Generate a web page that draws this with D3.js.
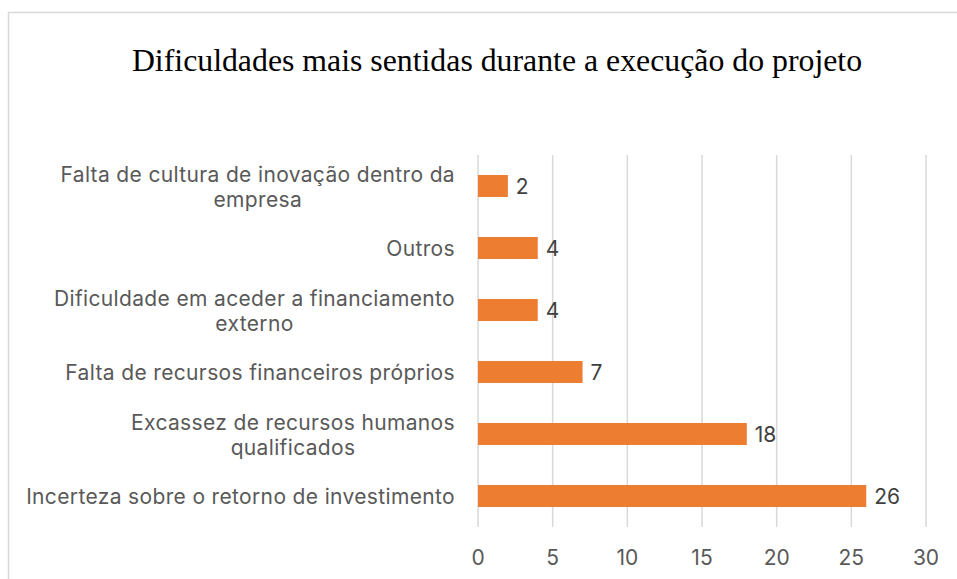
<!DOCTYPE html>
<html>
<head>
<meta charset="utf-8">
<script src="https://cdn.jsdelivr.net/npm/d3@7"></script>
<style>
  body { margin: 0; background: #fff; }
  svg { display: block; }
</style>
</head>
<body>
<div id="container"></div>
<script>
const categories = [
  ["Falta de cultura de inovação dentro da", "empresa"],
  ["Outros"],
  ["Dificuldade em aceder a financiamento", "externo"],
  ["Falta de recursos financeiros próprios"],
  ["Excassez de recursos humanos", "qualificados"],
  ["Incerteza sobre o retorno de investimento"]
];
const values = [2, 4, 4, 7, 18, 26];
const ticks = [0, 5, 10, 15, 20, 25, 30];
const title = "Dificuldades mais sentidas durante a execução do projeto";

const width = 957, height = 579;
const labelFont = "Inter, 'Liberation Sans', sans-serif";
const fs = 21;
const ls = 0.35;

const svg = d3.select("#container").append("svg")
  .attr("width", width)
  .attr("height", height);

// chart frame (cropped on right and bottom)
svg.append("rect")
  .attr("x", 8.5).attr("y", 12.5)
  .attr("width", 960).attr("height", 600)
  .attr("fill", "#fff")
  .attr("stroke", "#d9d9d9")
  .attr("stroke-width", 1.5);

svg.append("text")
  .attr("x", 497).attr("y", 71)
  .attr("text-anchor", "middle")
  .attr("font-family", "'Liberation Serif', 'Times New Roman', serif")
  .attr("font-size", 31.8)
  .attr("fill", "#000")
  .text(title);

const x = d3.scaleLinear().domain([0, 30]).range([478, 926]);
const y = d3.scaleBand()
  .domain(d3.range(categories.length))
  .range([155, 527])
  .paddingInner(0.645)
  .paddingOuter(0.3225);

// gridlines
svg.append("g")
  .selectAll("line")
  .data(ticks)
  .join("line")
  .attr("x1", d => x(d)).attr("x2", d => x(d))
  .attr("y1", 155).attr("y2", 527)
  .attr("stroke", "#d9d9d9")
  .attr("stroke-width", 1.5);

// tick labels
svg.append("g")
  .selectAll("text")
  .data(ticks)
  .join("text")
  .attr("x", d => x(d))
  .attr("y", 565)
  .attr("text-anchor", "middle")
  .attr("font-family", labelFont)
  .attr("font-size", fs)
  .attr("fill", "#595959")
  .text(d => d);

// bars
svg.append("g")
  .selectAll("rect")
  .data(values)
  .join("rect")
  .attr("x", x(0))
  .attr("y", (d, i) => y(i))
  .attr("width", d => x(d) - x(0))
  .attr("height", y.bandwidth())
  .attr("fill", "#ed7d31");

// value labels
svg.append("g")
  .selectAll("text")
  .data(values)
  .join("text")
  .attr("x", d => x(d) + 8)
  .attr("y", (d, i) => y(i) + y.bandwidth() / 2 + 8)
  .attr("font-family", labelFont)
  .attr("font-size", fs)
  .attr("fill", "#404040")
  .text(d => d);

// category labels: block right-aligned at 455, lines centred within block
const labelRight = 455;
const cat = svg.append("g")
  .selectAll("g")
  .data(categories)
  .join("g");

cat.each(function(lines, i) {
  const g = d3.select(this);
  const base = y(i) + y.bandwidth() / 2 + 8 - (lines.length - 1) * 12.5;
  const t = g.selectAll("text")
    .data(lines)
    .join("text")
    .attr("font-family", labelFont)
    .attr("font-size", fs)
    .attr("letter-spacing", ls)
    .attr("fill", "#595959")
    .attr("text-anchor", "middle")
    .attr("y", (d, j) => base + j * 25)
    .text(d => d);
  const maxW = d3.max(t.nodes(), n => n.getComputedTextLength());
  t.attr("x", labelRight - maxW / 2);
});
</script>
</body>
</html>
